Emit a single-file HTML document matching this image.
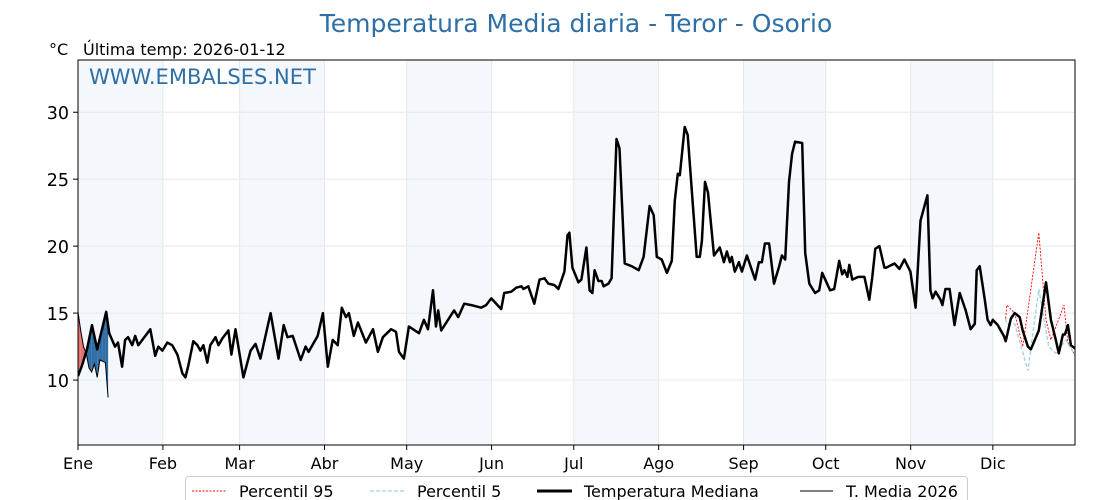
<!DOCTYPE html>
<html><head><meta charset="utf-8">
<style>
html,body{margin:0;padding:0;background:#fff;}
svg{display:block;font-family:"DejaVu Sans","Liberation Sans",sans-serif;}
</style></head>
<body>
<svg id="chart" width="1120" height="500" viewBox="0 0 1120 500">
<defs><clipPath id="plotclip"><rect x="78" y="60" width="997" height="385"/></clipPath></defs>
<text x="576" y="32" text-anchor="middle" font-size="25" fill="#2e6fa6">Temperatura Media diaria - Teror - Osorio</text>
<text x="49" y="55" font-size="16" fill="#000">°C</text>
<text x="83" y="55" font-size="16" fill="#000">Última temp: 2026-01-12</text>
<g id="bands"></g>
<g id="grid"></g>
<g id="series" clip-path="url(#plotclip)"></g>
<rect x="78" y="60" width="997" height="385" fill="none" stroke="#000" stroke-width="1"/>
<text x="89" y="84" font-size="21" fill="#2e6fa6">WWW.EMBALSES.NET</text>
<g id="axes"></g>
<g>
<rect x="185.5" y="476.5" width="782" height="30" rx="3" fill="#fff" stroke="#ccc"/>
<g>
<line x1="192" y1="491" x2="226" y2="491" stroke="#f00" stroke-width="1" stroke-dasharray="2,1.5"/>
<text x="239" y="497" font-size="16">Percentil 95</text></g>
<g>
<line x1="370" y1="491" x2="405" y2="491" stroke="#9fd0e6" stroke-width="1.2" stroke-dasharray="4,2"/>
<text x="417" y="497" font-size="16">Percentil 5</text></g>
<g>
<line x1="537" y1="491" x2="572" y2="491" stroke="#000" stroke-width="3"/>
<text x="584" y="497" font-size="16">Temperatura Mediana</text></g>
<g>
<line x1="800" y1="491" x2="833" y2="491" stroke="#000" stroke-width="1"/>
<text x="846" y="497" font-size="16">T. Media 2026</text></g>
</g>
</svg>
<script>
const monthLabels=["Ene","Feb","Mar","Abr","May","Jun","Jul","Ago","Sep","Oct","Nov","Dic"];
const monthStartDays=[0,31,59,90,120,151,181,212,243,273,304,334];
const yTicks=[10,15,20,25,30];
const medianDays=[0,1.5,3.3,5.1,7.0,10.3,11.4,13.5,14.6,16.1,17.2,18.3,19.8,20.9,22.0,26.4,28.2,29.3,30.8,32.6,34.4,36.3,38.1,39.2,40.3,42.1,43.6,44.7,45.8,47.2,48.3,50.2,51.3,52.7,54.9,56.0,57.5,60.4,63.0,64.8,66.6,70.3,73.2,75.1,76.5,78.4,81.3,83.1,84.2,87.5,89.4,91.2,93.0,94.8,96.3,97.8,98.9,100.7,102.2,105.1,107.7,109.5,111.3,114.3,116.1,117.2,119.0,120.8,124.5,126.3,127.8,129.6,130.7,131.5,132.6,137.3,138.8,141.0,143.6,147.2,149.0,150.9,154.5,155.6,158.2,160.0,161.9,162.6,164.4,166.6,168.5,170.3,171.7,173.9,175.4,177.6,178.7,179.4,180.5,182.7,183.8,185.6,186.8,187.8,188.6,190.0,191.2,191.9,193.7,194.8,196.6,197.7,199.6,202.1,204.7,206.5,208.7,210.2,211.3,213.1,215.0,216.8,217.9,219.0,219.7,221.5,222.6,225.9,227.0,227.8,228.9,230.0,232.2,234.3,235.8,236.9,238.0,238.7,239.8,241.3,242.4,244.2,247.2,248.6,249.7,250.8,252.3,254.1,256.0,257.0,258.2,259.6,260.7,261.8,264.4,265.5,267.0,269.1,270.6,271.7,274.6,276.1,277.9,279.0,279.8,280.9,281.6,282.7,284.9,287.1,288.9,290.0,291.1,292.6,294.4,295.1,298.1,299.9,301.7,303.9,305.8,307.6,310.1,311.2,312.0,313.1,314.9,315.6,316.7,318.2,320.0,321.9,324.1,325.9,327.4,328.1,329.2,331.0,332.1,333.2,334.0,335.8,338.0,338.7,340.6,342.0,343.8,344.9,346.8,347.9,350.8,353.4,355.2,357.0,358.1,359.6,360.3,361.4,362.5,364.4,365];
const medianValues=[10.3,11.1,12.3,14.1,12.3,15.1,13.5,12.5,12.8,11.0,13.0,13.2,12.6,13.3,12.6,13.8,11.8,12.5,12.2,12.8,12.6,11.9,10.5,10.2,11.1,12.9,12.6,12.2,12.6,11.3,12.6,13.2,12.6,13.1,13.7,11.9,13.8,10.2,12.2,12.7,11.6,15.0,11.6,14.1,13.2,13.3,11.5,12.5,12.1,13.3,15.0,11.0,13.0,12.6,15.4,14.7,15.0,13.3,14.3,12.8,13.8,12.1,13.2,13.8,13.6,12.1,11.6,14.0,13.5,14.5,13.8,16.7,14.0,15.2,13.7,15.2,14.7,15.7,15.6,15.4,15.6,16.1,15.3,16.5,16.6,16.9,17.0,16.8,17.0,15.7,17.5,17.6,17.2,17.1,16.8,18.1,20.8,21.0,18.4,17.3,17.5,19.9,16.7,16.5,18.2,17.4,17.4,17.0,17.2,17.6,28.0,27.3,18.7,18.5,18.2,19.2,23.0,22.3,19.2,19.0,18.0,18.9,23.4,25.4,25.3,28.9,28.3,19.2,19.2,20.4,24.8,24.0,19.3,19.9,18.8,19.6,18.8,19.2,18.1,18.8,18.1,19.3,17.5,18.8,18.8,20.2,20.2,17.2,18.5,19.3,19.0,24.8,26.9,27.8,27.7,19.5,17.2,16.5,16.7,18.0,16.7,16.8,18.9,17.9,18.2,17.7,18.6,17.5,17.7,17.7,16.0,17.7,19.8,20.0,18.4,18.4,18.7,18.3,19.0,18.1,15.4,21.9,23.8,16.7,16.1,16.6,16.0,15.6,16.8,16.8,14.1,16.5,15.2,13.8,14.2,18.2,18.5,16.1,14.5,14.1,14.5,14.1,13.3,12.9,14.6,15.0,14.7,13.7,12.5,12.3,13.7,17.3,14.5,13.0,12.0,13.4,13.4,14.1,12.6,12.3,12.0,11.5];
const p95Days=[338.7,339.1,342.0,344.9,350.8,353.4,355.2,360.0,361.4,365];
const p95Values=[14.6,15.6,15.0,12.5,21.0,14.5,13.0,15.6,12.8,11.5];
const p5Days=[338.7,339.1,342.0,346.8,350.8,354.4,357.0,360.7,365];
const p5Values=[14.6,14.2,14.2,10.7,16.8,12.5,12.0,13.0,11.5];
const t2026Days=[0,1,2,3,4,5,6,7,8,9,10,11];
const t2026Values=[15.1,13.7,12.5,12.0,10.9,10.6,11.2,10.2,11.5,11.4,11.3,8.7];

const X0=78,X1=1075,Y0=445,Y1=60,YMIN=5.15,YMAX=33.9,DMAX=364;
const xs=d=>X0+d/DMAX*(X1-X0);
const ys=v=>Y0-(v-YMIN)/(YMAX-YMIN)*(Y0-Y1);
const NS="http://www.w3.org/2000/svg";
function mk(tag,attrs,parent){const e=document.createElementNS(NS,tag);for(const k in attrs)e.setAttribute(k,attrs[k]);parent.appendChild(e);return e;}
const bands=document.getElementById('bands'),grid=document.getElementById('grid'),series=document.getElementById('series'),axes=document.getElementById('axes');

monthStartDays.forEach((d,i)=>{
  const end=i<11?monthStartDays[i+1]:DMAX;
  if(i%2===0){const r=mk('rect',{x:xs(d),y:Y1,width:xs(end)-xs(d),height:Y0-Y1,fill:'#f4f8fc'},bands);
    
    }
  const g=mk('line',{x1:xs(d),x2:xs(d),y1:Y1,y2:Y0,stroke:'#e3e8ee','stroke-width':1},grid);
  
  
  const t=mk('line',{x1:xs(d),x2:xs(d),y1:Y0,y2:Y0+5,stroke:'#000'},axes);
  
  
  const l=mk('text',{x:xs(d),y:Y0+24,'font-size':16,'text-anchor':'middle'},axes);
  l.textContent=monthLabels[i];
  
  
});
yTicks.forEach(v=>{
  const g=mk('line',{x1:X0,x2:X1,y1:ys(v),y2:ys(v),stroke:'#e8e8e8'},grid);
  
  
  const t=mk('line',{x1:X0-5,x2:X0,y1:ys(v),y2:ys(v),stroke:'#000'},axes);
  
  
  const l=mk('text',{x:X0-9,y:ys(v)+7,'font-size':17.5,'text-anchor':'end'},axes);
  l.textContent=v;
  
  
});
function interp(ds,vs,d){if(d<=ds[0])return vs[0];for(let i=1;i<ds.length;i++){if(d<=ds[i]){const f=(d-ds[i-1])/(ds[i]-ds[i-1]);return vs[i-1]+f*(vs[i]-vs[i-1]);}}return vs[vs.length-1];}
for(let i=1;i<t2026Days.length;i++){
  const da=t2026Days[i-1],db=t2026Days[i];
  const ta=t2026Values[i-1],tb=t2026Values[i];
  const ma=interp(medianDays,medianValues,da),mb=interp(medianDays,medianValues,db);
  const ea=ta-ma,eb=tb-mb;
  const segs=[];
  if(ea*eb<0){const f=ea/(ea-eb);const dc=da+f*(db-da);const vc=ta+f*(tb-ta);
    segs.push([da,ta,ma,dc,vc,vc,ea]);segs.push([dc,vc,vc,db,tb,mb,eb]);}
  else segs.push([da,ta,ma,db,tb,mb,ea+eb]);
  segs.forEach(s=>{
    const p=mk('polygon',{points:`${xs(s[0])},${ys(s[1])} ${xs(s[3])},${ys(s[4])} ${xs(s[3])},${ys(s[5])} ${xs(s[0])},${ys(s[2])}`,fill:s[6]>0?'#e8706f':'#2f6ea5'},series);
    
    
  });
}
function pathOf(ds,vs){return ds.map((d,i)=>(i?'L':'M')+xs(d).toFixed(1)+','+ys(vs[i]).toFixed(1)).join(' ');}
const p95=mk('path',{d:pathOf(p95Days,p95Values),fill:'none',stroke:'#f00','stroke-width':0.9,'stroke-dasharray':'2,1.5'},series);


const p5=mk('path',{d:pathOf(p5Days,p5Values),fill:'none',stroke:'#9fd0e6','stroke-width':1.3,'stroke-dasharray':'4,2'},series);


const med=mk('path',{d:pathOf(medianDays,medianValues),fill:'none',stroke:'#000','stroke-width':2.5,'stroke-linejoin':'round'},series);


const t26=mk('path',{d:pathOf(t2026Days,t2026Values),fill:'none',stroke:'#000','stroke-width':1},series);


</script>
</body></html>
